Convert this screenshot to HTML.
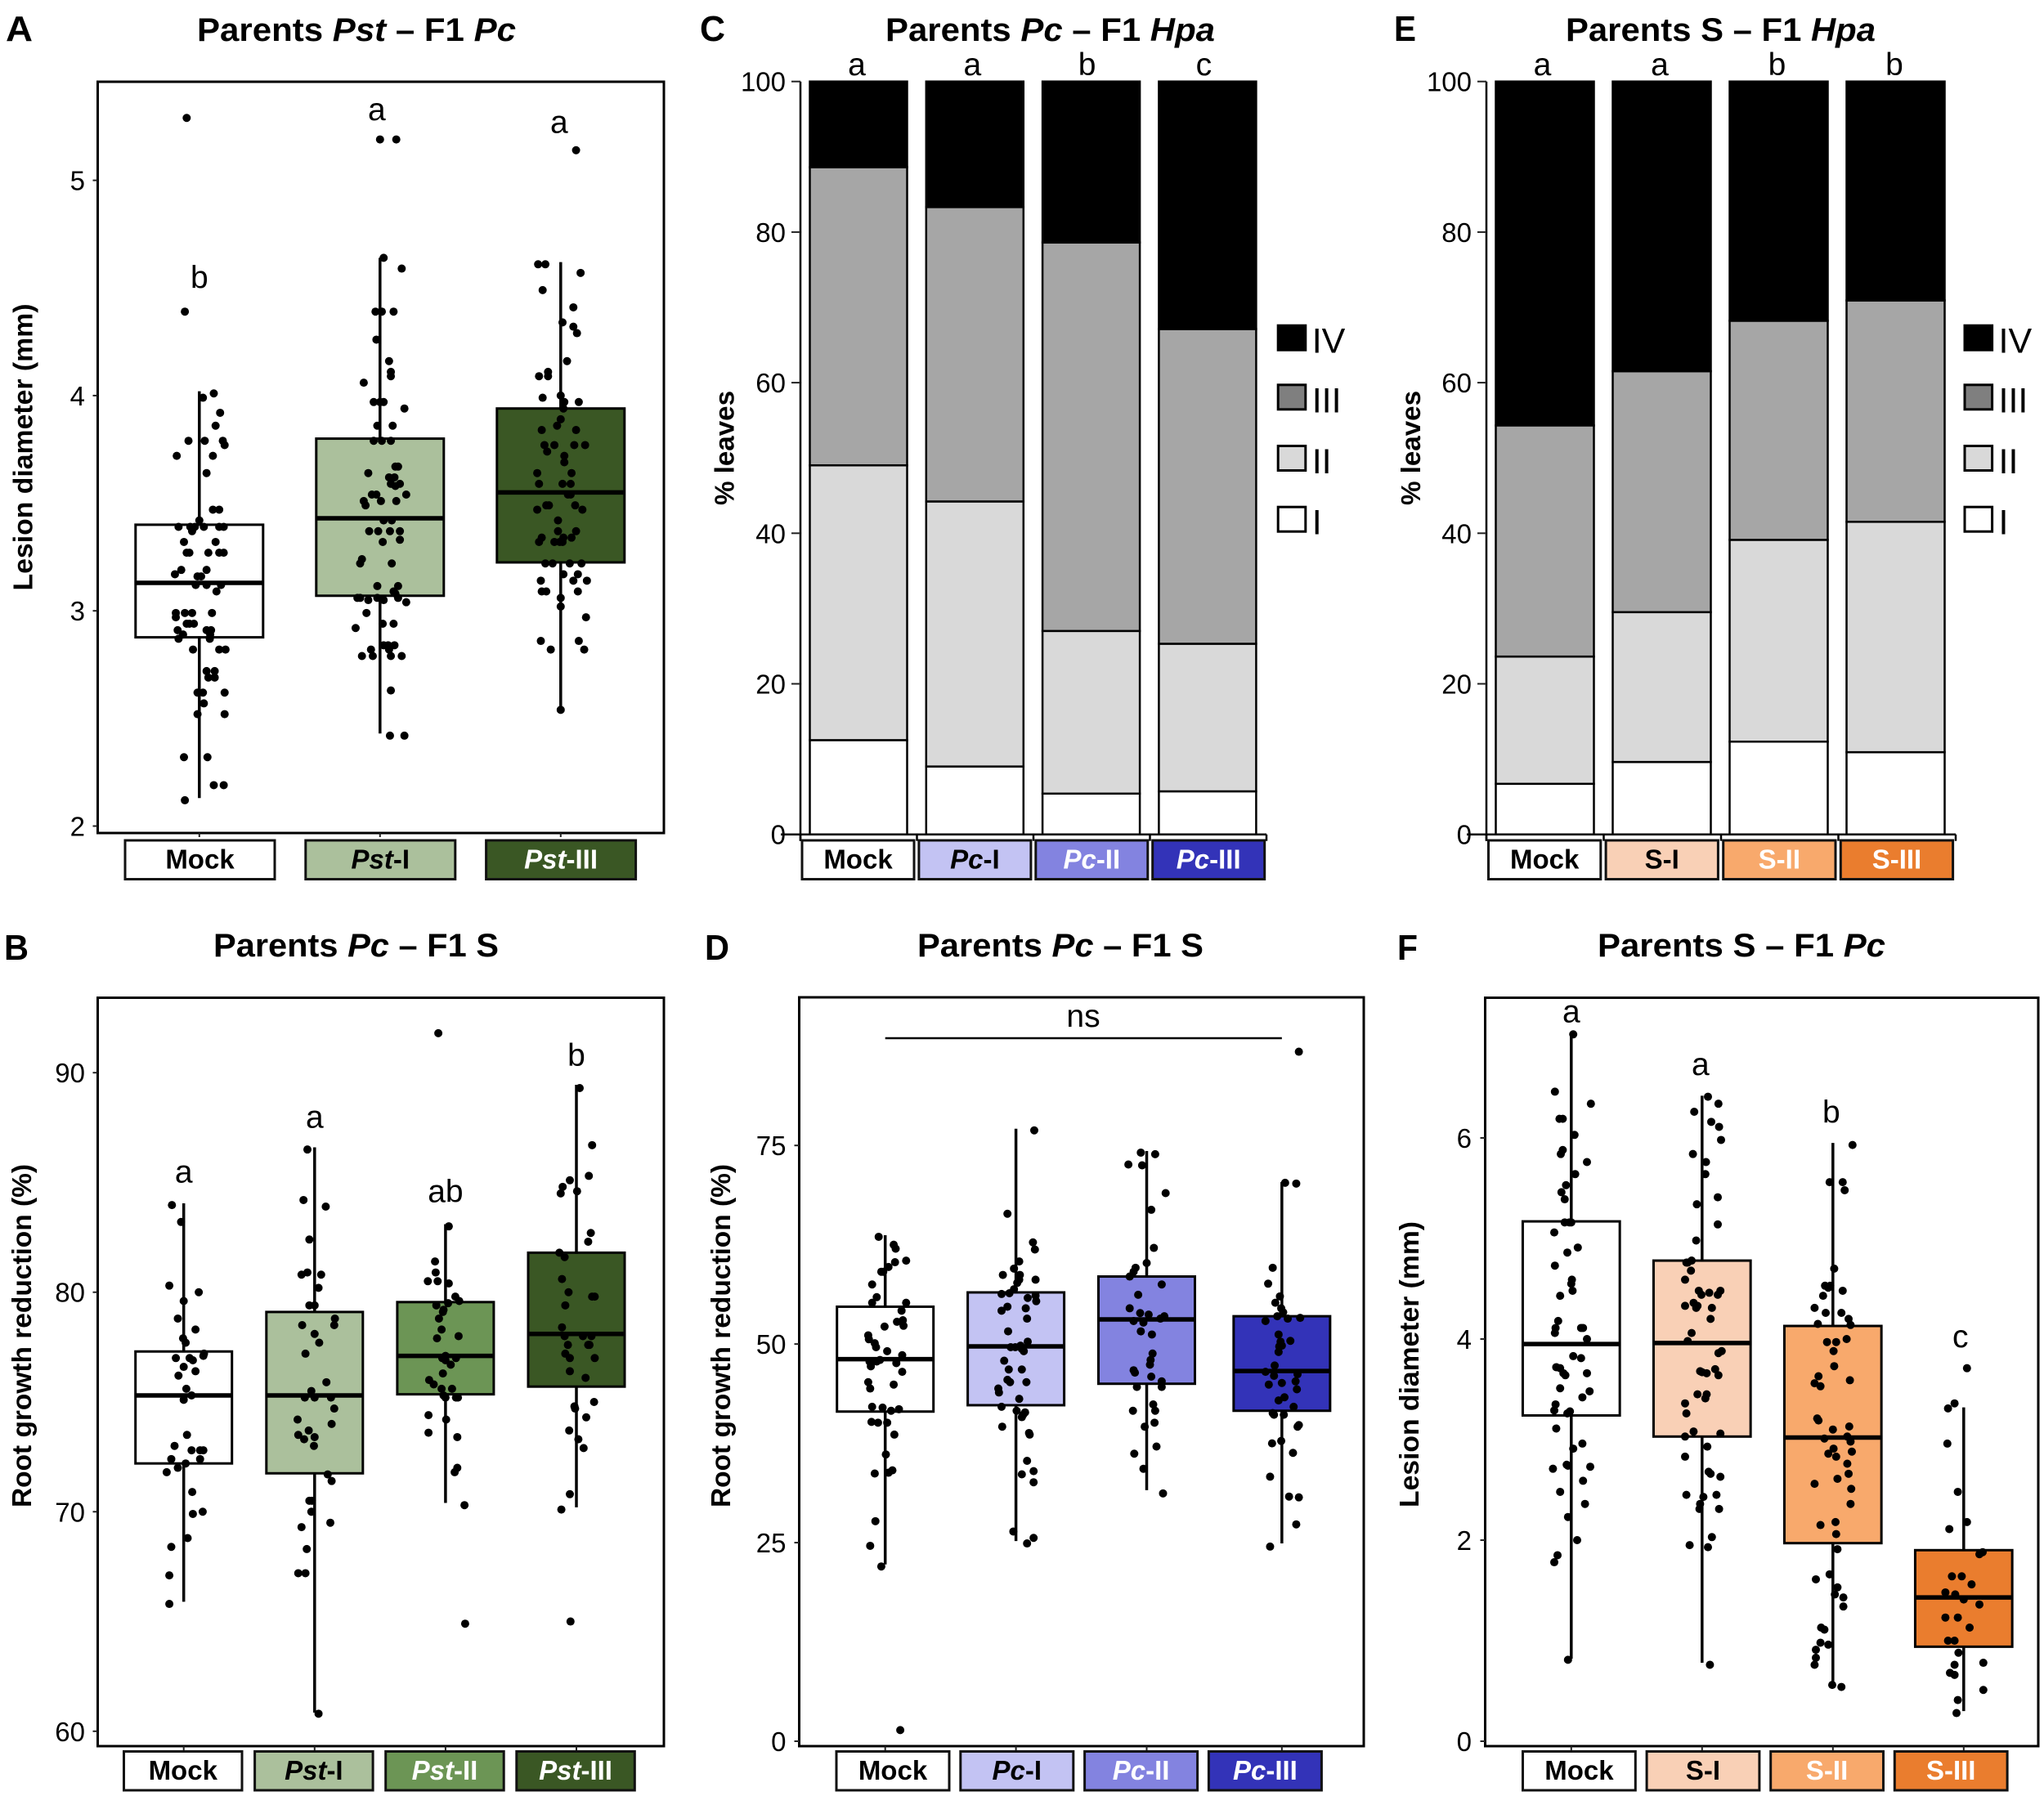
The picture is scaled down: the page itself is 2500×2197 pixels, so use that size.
<!DOCTYPE html>
<html lang="en">
<head>
<meta charset="utf-8">
<title>Parental infection and F1 disease phenotypes</title>
<style>
html,body{margin:0;padding:0;background:#fff}
svg{display:block;font-family:"Liberation Sans",Arial,sans-serif}
.ptitle{font-size:40px;font-weight:700;fill:#000}
.pletter{font-size:44px;font-weight:700;fill:#000}
.ytitle{font-size:33px;font-weight:700;fill:#000}
</style>
</head>
<body>
<svg id="fig" xmlns="http://www.w3.org/2000/svg" width="2500" height="2197" viewBox="0 0 2500 2197">
  <rect x="0" y="0" width="2500" height="2197" fill="#fff"/>

  <text class="pletter" x="7" y="50" textLength="33" lengthAdjust="spacingAndGlyphs">A</text>
  <text class="pletter" x="5" y="1174" textLength="30" lengthAdjust="spacingAndGlyphs">B</text>
  <text class="pletter" x="856" y="50" textLength="31" lengthAdjust="spacingAndGlyphs">C</text>
  <text class="pletter" x="862" y="1174" textLength="30" lengthAdjust="spacingAndGlyphs">D</text>
  <text class="pletter" x="1705" y="50" textLength="27" lengthAdjust="spacingAndGlyphs">E</text>
  <text class="pletter" x="1709" y="1174" textLength="25" lengthAdjust="spacingAndGlyphs">F</text>

  <text class="ptitle" x="241" y="50" textLength="390" lengthAdjust="spacingAndGlyphs">Parents <tspan font-style="italic">Pst</tspan> – F1 <tspan font-style="italic">Pc</tspan></text>
  <text class="ptitle" x="261" y="1170" textLength="349" lengthAdjust="spacingAndGlyphs">Parents <tspan font-style="italic">Pc</tspan> – F1 S</text>
  <text class="ptitle" x="1083" y="50" textLength="403" lengthAdjust="spacingAndGlyphs">Parents <tspan font-style="italic">Pc</tspan> – F1 <tspan font-style="italic">Hpa</tspan></text>
  <text class="ptitle" x="1122" y="1170" textLength="350" lengthAdjust="spacingAndGlyphs">Parents <tspan font-style="italic">Pc</tspan> – F1 S</text>
  <text class="ptitle" x="1915" y="50" textLength="379" lengthAdjust="spacingAndGlyphs">Parents S – F1 <tspan font-style="italic">Hpa</tspan></text>
  <text class="ptitle" x="1954" y="1170" textLength="352" lengthAdjust="spacingAndGlyphs">Parents S – F1 <tspan font-style="italic">Pc</tspan></text>

  <text class="ytitle" text-anchor="middle" transform="translate(39.5,547) rotate(-90)" textLength="351" lengthAdjust="spacingAndGlyphs">Lesion diameter (mm)</text>
  <text class="ytitle" text-anchor="middle" transform="translate(38,1634) rotate(-90)" textLength="420" lengthAdjust="spacingAndGlyphs">Root growth reduction (%)</text>
  <text class="ytitle" text-anchor="middle" transform="translate(897.5,548) rotate(-90)" textLength="140" lengthAdjust="spacingAndGlyphs">% leaves</text>
  <text class="ytitle" text-anchor="middle" transform="translate(893,1634) rotate(-90)" textLength="420" lengthAdjust="spacingAndGlyphs">Root growth reduction (%)</text>
  <text class="ytitle" text-anchor="middle" transform="translate(1737,548) rotate(-90)" textLength="140" lengthAdjust="spacingAndGlyphs">% leaves</text>
  <text class="ytitle" text-anchor="middle" transform="translate(1735,1669) rotate(-90)" textLength="350" lengthAdjust="spacingAndGlyphs">Lesion diameter (mm)</text>

  <g id="marks"></g>
</svg>

<script>
/* ---------- Panel A data ---------- */
const aCategories = ['Mock','Pst-I','Pst-III'];
const aTicks = [2,3,4,5];
const aQ1 = [2.877,3.07,3.225];
const aMedian = [3.13,3.43,3.55];
const aQ3 = [3.40,3.80,3.94];
const aWhiskerLow = [2.13,2.43,2.54];
const aWhiskerHigh = [4.02,4.64,4.62];
const aLetters = ['b','a','a'];
const aLetterValues = [4.50,5.28,5.22];
const aMockPoints = [[-.07,5.29],[-.08,4.39],[.08,4.01],[.02,3.99],[.115,3.92],[.09,3.86],[-.06,3.79],[.03,3.79],[.13,3.79],[.14,3.77],[-.125,3.72],[.075,3.72],[.04,3.64],[.075,3.47],[.11,3.47],[0,3.42],[-.115,3.39],[-.05,3.39],[-.025,3.39],[.025,3.39],[.11,3.39],[.135,3.39],[-.04,3.37],[-.085,3.32],[.09,3.32],[-.07,3.27],[-.055,3.27],[.05,3.27],[.11,3.27],[.135,3.27],[-.1,3.19],[.04,3.19],[-.135,3.17],[-.01,3.16],[.01,3.16],[-.02,3.12],[.04,3.12],[.12,3.12],[.095,3.09],[-.13,2.99],[-.08,2.99],[-.04,2.99],[.07,2.99],[-.13,2.97],[-.07,2.94],[-.055,2.94],[-.03,2.94],[-.12,2.91],[.04,2.91],[.065,2.91],[-.09,2.89],[.06,2.89],[-.115,2.87],[.058,2.87],[-.035,2.82],[.11,2.82],[.145,2.82],[.04,2.72],[.085,2.72],[.05,2.69],[.085,2.69],[-.01,2.62],[.02,2.62],[.14,2.62],[.025,2.57],[-.01,2.52],[.14,2.52],[-.085,2.32],[.045,2.32],[.08,2.19],[.135,2.19],[-.08,2.12]];
const aPst1Points = [[0,5.19],[.09,5.19],[.02,4.64],[.12,4.59],[-.025,4.39],[.01,4.39],[.075,4.39],[-.02,4.26],[.05,4.16],[.06,4.11],[.06,4.09],[-.09,4.06],[-.035,3.97],[0,3.97],[.02,3.97],[.135,3.94],[-.015,3.86],[.07,3.86],[-.035,3.79],[.01,3.79],[.06,3.79],[-.065,3.64],[.085,3.67],[.1,3.67],[.05,3.62],[.08,3.62],[.06,3.59],[.11,3.59],[.085,3.58],[-.045,3.54],[-.02,3.54],[.145,3.54],[-.09,3.51],[.005,3.51],[.09,3.51],[-.08,3.49],[.02,3.42],[.065,3.42],[-.06,3.37],[-.01,3.37],[.055,3.37],[.11,3.37],[.015,3.32],[.11,3.33],[-.1,3.24],[-.11,3.22],[.065,3.22],[-.015,3.115],[.1,3.115],[.075,3.09],[.085,3.08],[-.125,3.06],[-.11,3.06],[-.065,3.05],[-.015,3.06],[.02,3.05],[.1,3.06],[.145,3.04],[-.075,2.99],[.015,2.94],[.075,2.94],[-.135,2.92],[.02,2.84],[.045,2.84],[.08,2.84],[-.05,2.82],[.05,2.82],[-.1,2.79],[-.04,2.79],[.06,2.79],[.12,2.79],[.06,2.63],[.055,2.42],[.135,2.42]];
const aPst3Points = [[.085,5.14],[-.125,4.61],[-.085,4.61],[.11,4.57],[-.1,4.49],[.07,4.41],[.01,4.34],[.07,4.32],[.09,4.29],[.035,4.16],[-.12,4.09],[-.07,4.11],[-.07,4.09],[-.1,3.99],[0,4.0],[.02,3.97],[.1,3.97],[.015,3.94],[0,3.89],[-.02,3.86],[-.105,3.84],[.085,3.84],[-.09,3.77],[-.035,3.77],[.075,3.77],[.135,3.77],[-.075,3.74],[.02,3.72],[.02,3.69],[-.13,3.64],[.06,3.64],[-.12,3.59],[.01,3.59],[.055,3.59],[.04,3.54],[.055,3.54],[-.08,3.49],[-.065,3.49],[.08,3.49],[-.13,3.47],[.12,3.47],[-.015,3.42],[-.015,3.37],[.085,3.37],[-.105,3.34],[.015,3.34],[.06,3.34],[-.12,3.32],[-.035,3.32],[-.005,3.32],[.01,3.32],[-.085,3.22],[-.045,3.22],[.05,3.22],[.115,3.22],[.015,3.17],[.095,3.17],[-.11,3.14],[.07,3.14],[.145,3.14],[-.105,3.09],[-.08,3.09],[.095,3.09],[0,3.06],[0,3.02],[.14,2.97],[-.11,2.86],[.1,2.86],[-.055,2.82],[.13,2.82],[0,2.54]];

/* ---------- Panel B data ---------- */
const bCategories = ['Mock','Pst-I','Pst-II','Pst-III'];
const bTicks = [60,70,80,90];
const bQ1 = [72.2,71.75,75.35,75.7];
const bMedian = [75.3,75.3,77.1,78.1];
const bQ3 = [77.3,79.1,79.55,81.8];
const bWhiskerLow = [65.9,60.85,70.4,70.2];
const bWhiskerHigh = [84.05,86.6,83.1,89.45];
const bLetters = ['a','a','ab','b'];
const bLetterValues = [85,87.5,84.1,90.3];
const bMockPoints = [[-.09,83.97],[-.02,83.2],[-.11,80.3],[.115,80],[0,79.6],[-.045,78.8],[.09,78.3],[-.005,77.9],[.015,77.7],[-.06,77],[.045,77],[.07,76.9],[.155,77.2],[.15,77.1],[0,76.6],[.09,76.4],[-.04,76.2],[.02,75.6],[.06,75.3],[0,75.1],[.025,73.5],[-.07,73],[.06,72.8],[.125,72.8],[.15,72.8],[-.095,72.4],[.125,72.4],[.015,72.2],[-.045,72],[-.13,71.8],[.065,70.9],[.145,70],[.07,69.9],[.03,68.8],[-.095,68.4],[-.11,67.1],[-.11,65.8]];
const bPst1Points = [[-.055,86.5],[-.085,84.2],[.085,83.9],[-.04,82.4],[-.1,80.8],[-.055,80.9],[.05,80.8],[.03,80.2],[-.04,79.4],[0,79.4],[.155,78.8],[-.095,78.5],[.15,78.5],[0,78.1],[.035,77.7],[-.07,77.2],[.09,75.9],[-.025,75.5],[-.075,75.2],[0,75.2],[.125,75.2],[.15,74.7],[-.13,74.2],[.13,74],[-.045,73.7],[-.125,73.5],[-.08,73.3],[0,73.4],[-.005,73],[.1,71.7],[.13,71.4],[-.04,70.5],[-.02,70.5],[-.025,70],[.12,69.5],[-.1,69.3],[-.06,68.3],[-.125,67.2],[-.07,67.2],[.03,60.8]];
const bPst2Points = [[-.055,91.8],[.025,83],[-.08,81.4],[-.075,80.9],[-.135,80.5],[-.06,80.5],[.025,80.4],[.075,79.8],[.105,79.6],[.02,79.5],[-.07,79.4],[-.015,79.2],[-.02,79.1],[-.05,78.8],[-.03,78.3],[-.065,77.9],[.1,78],[0,77.1],[-.025,77],[.08,77],[0,76.9],[.04,76.7],[-.02,76.3],[-.125,76],[-.09,75.8],[-.03,75.6],[.05,75.6],[0,75.2],[.08,75.2],[.095,75.2],[-.015,75.3],[-.13,74.4],[.005,74.2],[-.13,73.6],[.09,73.4],[.09,72],[.07,71.8],[.145,70.3],[.15,64.9]];
const bPst3Points = [[.025,89.3],[.12,86.7],[.095,85.3],[-.05,85.1],[-.105,84.8],[.005,84.6],[-.12,84.5],[.11,82.7],[.09,82.3],[-.13,81.8],[-.09,81.6],[-.11,80.6],[-.06,80],[.12,79.8],[.14,79.8],[-.085,79.4],[-.11,78.4],[-.09,78],[.05,78],[.115,78],[-.065,77.6],[.09,77.6],[.1,77.6],[-.085,77.2],[-.05,77],[.14,77],[-.05,76.4],[.07,76.1],[.135,75],[-.015,74.8],[-.01,74.7],[.075,74.3],[-.055,73.7],[.015,73.3],[.055,72.9],[-.05,70.8],[-.115,70.1],[-.045,65]];

/* ---------- Panel C data (segment heights, % leaves) ---------- */
const cCategories = ['Mock','Pc-I','Pc-II','Pc-III'];
const stackTicks = [0,20,40,60,80,100];
const cClassI = [12.52,9.02,5.42,5.72];
const cClassII = [36.5,35.2,21.6,19.6];
const cClassIII = [39.6,39.1,51.6,41.8];
const cClassIV = [11.38,16.68,21.38,32.88];
const cLetters = ['a','a','b','c'];

/* ---------- Panel D data ---------- */
const dCategories = ['Mock','Pc-I','Pc-II','Pc-III'];
const dTicks = [0,25,50,75];
const dQ1 = [41.5,42.3,45,41.6];
const dMedian = [48.1,49.7,53.1,46.6];
const dQ3 = [54.7,56.5,58.5,53.5];
const dWhiskerLow = [22.25,25.2,31.6,24.9];
const dWhiskerHigh = [63.7,77.1,74.3,70.4];
const dMockPoints = [[-.05,63.5],[.065,62.5],[.08,62],[.16,60.5],[.075,60.3],[.025,59.7],[-.03,59.1],[-.015,59.1],[-.1,57.5],[-.065,55.9],[-.1,55.2],[.16,55.2],[.125,54.2],[.135,53],[.09,52.8],[.14,52.3],[-.005,52.2],[-.13,51.1],[-.125,50.6],[-.08,50.1],[-.07,49.6],[.015,49.1],[.13,48.6],[-.065,47.8],[-.04,48],[-.12,47.8],[.085,47.6],[-.11,47.2],[.13,46.5],[-.13,45.2],[.065,44.9],[-.115,44.4],[-.1,42.1],[-.02,42],[.045,41.6],[.105,41.8],[-.105,40.2],[-.055,40.1],[.015,40.1],[.07,38.6],[.005,36.1],[.055,34.1],[.025,33.8],[-.08,33.7],[-.075,27.7],[-.115,24.6],[-.03,22],[.115,1.4]];
const dPc1Points = [[.14,76.9],[-.065,66.4],[.13,62.8],[.145,61.9],[.025,60.4],[-.015,59.5],[-.1,58.7],[.03,58.7],[.15,58.1],[.025,58.1],[.01,57.7],[-.015,56.9],[-.05,56.4],[-.11,56.3],[.09,55.8],[.15,56.1],[.155,55.4],[-.065,54.7],[-.11,54.2],[.075,54.5],[.085,53.2],[-.06,51.6],[.09,50.3],[-.04,49.6],[-.005,49.6],[.035,49.8],[.045,49.4],[.06,49.1],[-.09,47.9],[-.055,46.8],[.045,46.8],[-.065,45.5],[-.045,45.2],[.08,45.2],[-.135,44.4],[-.13,43.9],[.025,43.1],[-.11,42.1],[.005,41.6],[.055,41.1],[.07,41.4],[.045,40.8],[-.105,39.6],[.1,38.8],[.105,38.6],[.085,35.3],[.045,33.6],[.135,34],[.135,32.6],[-.02,26.4],[.135,25.6],[.085,24.9]];
const dPc2Points = [[-.045,74.1],[.065,73.9],[-.14,72.6],[-.035,72.5],[.145,69],[.035,66.9],[.055,62.1],[0,60.2],[-.085,59.6],[-.1,59.1],[-.13,58.5],[.115,57.5],[-.065,56.2],[-.13,54.5],[-.05,53.9],[.015,53.7],[.135,53.5],[.105,53.2],[-.1,52.9],[-.025,52.7],[-.045,51.6],[.04,51.2],[.045,48.8],[.03,48],[.025,47.4],[-.1,46.7],[-.09,46.4],[.035,45.9],[.115,45.3],[.115,44.6],[-.075,44.6],[.05,42.4],[-.105,41.6],[.065,41.6],[.06,40.1],[-.015,39.6],[.075,37.1],[-.095,36.2],[-.025,34.3],[.125,31.2]];
const dPc3Points = [[.13,86.8],[.025,70.3],[.11,70.2],[-.07,59.6],[-.105,57.6],[-.015,56],[-.05,55.2],[-.005,54.5],[-.125,52.9],[-.035,53.5],[.045,53.2],[.14,53.3],[.01,54],[-.025,51.2],[.065,50.4],[-.01,50.3],[-.02,49.7],[0,49.8],[-.025,49],[-.055,47.3],[-.125,46.5],[-.06,46],[.12,46.2],[.105,45.3],[-.1,44.9],[0,45.1],[.115,44.3],[.02,43.3],[-.025,42.9],[.09,42.1],[-.06,41.1],[.015,41.1],[-.07,41.3],[.13,39.8],[.12,39.6],[-.005,37.8],[-.075,37.5],[.085,36.3],[-.09,33.3],[.055,30.8],[.13,30.7],[.11,27.3],[-.09,24.5]];

/* ---------- Panel E data (segment heights, % leaves) ---------- */
const eCategories = ['Mock','S-I','S-II','S-III'];
const eClassI = [6.72,9.62,12.32,10.92];
const eClassII = [16.9,19.9,26.8,30.6];
const eClassIII = [30.7,32,29.1,29.4];
const eClassIV = [45.68,38.48,31.78,29.08];
const eLetters = ['a','a','b','b'];

/* ---------- Panel F data ---------- */
const fCategories = ['Mock','S-I','S-II','S-III'];
const fTicks = [0,2,4,6];
const fQ1 = [3.24,3.03,1.97,.94];
const fMedian = [3.95,3.96,3.02,1.43];
const fQ3 = [5.17,4.78,4.13,1.9];
const fWhiskerLow = [.82,.78,.56,.3];
const fWhiskerHigh = [7.03,6.42,5.95,3.32];
const fLetters = ['a','a','b','c'];
const fLetterValues = [7.15,6.625,6.15,3.92];
const fMockPoints = [[.015,7.03],[-.125,6.46],[.15,6.34],[-.09,6.19],[-.065,6.19],[.025,6.03],[-.065,5.88],[-.08,5.84],[.12,5.76],[.03,5.64],[-.04,5.53],[-.075,5.46],[-.05,5.39],[-.05,5.16],[-.015,5.16],[0,5.16],[-.13,5.06],[.05,4.91],[-.03,4.86],[-.125,4.73],[.005,4.59],[0,4.55],[.01,4.48],[-.085,4.43],[-.1,4.18],[-.12,4.11],[-.125,4.06],[.075,4.11],[.09,4.11],[.12,4],[.015,3.83],[.075,3.81],[-.115,3.72],[-.085,3.71],[.12,3.66],[-.06,3.66],[-.045,3.64],[-.085,3.51],[.14,3.48],[.085,3.42],[-.12,3.35],[-.13,3.29],[-.03,3.26],[-.01,3.28],[-.115,3.11],[.085,2.96],[.015,2.91],[-.025,2.74],[-.035,2.75],[.145,2.73],[-.14,2.71],[.09,2.59],[-.085,2.48],[.105,2.36],[-.025,2.23],[.045,2],[-.105,1.85],[-.13,1.78],[-.025,.81]];
const fS1Points = [[.045,6.41],[.125,6.34],[-.06,6.26],[.07,6.16],[.13,6.11],[.145,5.98],[-.07,5.84],[.03,5.76],[.025,5.64],[.12,5.41],[-.04,5.34],[.12,5.14],[-.045,4.98],[-.08,4.78],[-.12,4.76],[-.11,4.76],[-.085,4.68],[-.13,4.59],[-.025,4.48],[.14,4.48],[-.005,4.44],[.055,4.46],[.12,4.44],[-.065,4.36],[-.13,4.33],[-.035,4.33],[-.045,4.31],[.075,4.31],[.065,4.2],[-.08,4.06],[-.11,3.98],[.15,3.88],[.125,3.86],[.1,3.7],[-.015,3.68],[0,3.67],[.035,3.66],[.125,3.64],[-.035,3.45],[.035,3.45],[.025,3.41],[-.13,3.36],[-.12,3.26],[-.065,3.08],[-.13,3.03],[.14,3.06],[.04,2.93],[-.13,2.83],[.05,2.68],[.065,2.66],[.14,2.63],[-.12,2.45],[.01,2.43],[.11,2.45],[-.015,2.36],[-.02,2.31],[.13,2.31],[.075,2.03],[-.095,1.95],[.045,1.93],[.06,.76]];
const fS2Points = [[.15,5.93],[-.025,5.56],[.075,5.56],[.09,5.48],[.01,4.7],[-.06,4.53],[-.02,4.53],[-.035,4.51],[.075,4.48],[-.075,4.43],[-.14,4.31],[-.055,4.26],[.065,4.26],[.12,4.2],[-.115,4.15],[.135,4.14],[.105,4],[-.045,3.97],[.025,3.97],[.005,3.88],[.01,3.73],[-.11,3.63],[-.14,3.56],[-.095,3.53],[.13,3.59],[-.12,3.21],[-.11,3.19],[.125,3.13],[0,3.1],[-.065,3.01],[.11,3.03],[.135,2.98],[.005,2.91],[.145,2.88],[-.035,2.86],[.025,2.83],[.11,2.76],[.12,2.66],[.035,2.61],[-.14,2.56],[.14,2.51],[.135,2.36],[.02,2.18],[-.095,2.15],[.025,2.06],[.035,1.91],[-.025,1.66],[-.13,1.61],[.035,1.53],[.015,1.46],[.08,1.43],[.08,1.34],[-.09,1.13],[-.065,1.11],[-.095,.98],[-.035,.96],[-.13,.91],[-.13,.83],[-.14,.76],[-.005,.56],[.065,.54]];
const fS3Points = [[.025,3.71],[-.07,3.36],[-.12,3.31],[-.125,2.96],[-.045,2.48],[.025,2.18],[-.11,2.11],[.145,1.88],[.12,1.86],[-.09,1.64],[-.015,1.64],[.06,1.56],[-.14,1.48],[-.065,1.46],[0,1.41],[.12,1.36],[-.14,1.23],[-.045,1.23],[.045,1.13],[-.12,1],[-.07,1],[-.04,.88],[.15,.78],[-.07,.76],[-.105,.68],[-.07,.66],[.15,.51],[-.045,.41],[-.055,.28]];

/* ---------- Shared style lookups ---------- */
const fillByCategory = {'Mock':'#ffffff','Pst-I':'#abc09c','Pst-II':'#6c9555','Pst-III':'#3a5724','Pc-I':'#c3c3f3','Pc-II':'#8383e0','Pc-III':'#3333b8','S-I':'#f9d0b6','S-II':'#f8a96c','S-III':'#ea7d2e'};
const whiteLabels = ['Pst-II','Pst-III','Pc-II','Pc-III','S-II','S-III'];
const classFills = ['#ffffff','#d9d9d9','#a6a6a6','#000000'];
const legendLabels = ['IV','III','II','I'];
const legendFills = ['#000000','#7f7f7f','#d9d9d9','#ffffff'];

/* ---------- Helpers ---------- */
const NS = 'http://www.w3.org/2000/svg';
const root = document.getElementById('marks');
function el(tag, parent, attrs){
  const e = document.createElementNS(NS, tag);
  for (const k in attrs) e.setAttribute(k, attrs[k]);
  parent.appendChild(e);
  return e;
}
function linearScale(v0, p0, v1, p1){
  return function(v){ return p0 + (v - v0) * (p1 - p0) / (v1 - v0); };
}
function slug(s){ return s.toLowerCase().replace(/[^a-z0-9]+/g,'-'); }

function drawChip(parent, panel, name, x, y, w, h){
  const g = el('g', parent, {});
  
  
  el('rect', g, {x:x, y:y, width:w, height:h, fill:fillByCategory[name], stroke:'#111', 'stroke-width':3});
  const t = el('text', g, {x:x + w/2, y:y + h/2 + 10.5, 'text-anchor':'middle', 'font-size':33, 'font-weight':700, fill: whiteLabels.includes(name) ? '#fff' : '#000'});
  const parts = name.split('-');
  if (parts.length === 2 && parts[0] !== 'S'){
    const i = el('tspan', t, {'font-style':'italic'});
    i.textContent = parts[0];
    const r = el('tspan', t, {});
    r.textContent = '-' + parts[1];
  } else {
    t.textContent = name;
  }
}

function drawYTicks(parent, panel, ticks, y, axisX){
  ticks.forEach(function(v){
    const g = el('g', parent, {});
    
    
    el('line', g, {x1:axisX.tickStart, x2:axisX.tickEnd, y1:y(v), y2:y(v), stroke:'#222', 'stroke-width':2});
    const t = el('text', g, {x:axisX.labelRight, y:y(v) + 12, 'text-anchor':'end', 'font-size':33, fill:'#000'});
    t.textContent = String(v);
  });
}

function drawBoxPanel(cfg){
  const g = el('g', root, {});
  
  
  const y = linearScale(cfg.yRef[0], cfg.yRef[1], cfg.yRef[2], cfg.yRef[3]);
  const x = function(i){ return cfg.firstCenter + cfg.slots[i] * cfg.spacing; };
  const f = cfg.frame;
  const frame = el('rect', g, {x:f[0], y:f[1], width:f[2]-f[0], height:f[3]-f[1], fill:'#fff', stroke:'#000', 'stroke-width':3});
  
  
  drawYTicks(g, cfg.id, cfg.ticks, y, {tickStart:f[0]-6, tickEnd:f[0], labelRight:cfg.labelRight});
  cfg.categories.forEach(function(name, i){
    const cx = x(i), hw = cfg.boxWidth/2;
    const tick = el('line', g, {x1:cx, x2:cx, y1:f[3], y2:f[3]+5, stroke:'#222', 'stroke-width':2});
    
    
    const whisker = el('line', g, {x1:cx, x2:cx, y1:y(cfg.high[i]), y2:y(cfg.low[i]), stroke:'#000', 'stroke-width':3.5});
    
    
    const box = el('rect', g, {x:cx-hw, y:y(cfg.q3[i]), width:cfg.boxWidth, height:y(cfg.q1[i])-y(cfg.q3[i]), fill:fillByCategory[name], stroke:'#000', 'stroke-width':3});
    
    
    const med = el('line', g, {x1:cx-hw, x2:cx+hw, y1:y(cfg.median[i]), y2:y(cfg.median[i]), stroke:'#000', 'stroke-width':5.5});
    
    
    cfg.points[i].forEach(function(p){
      const c = el('circle', g, {cx:cx + p[0]*cfg.spacing, cy:y(p[1]), r:5, fill:'#000'});
      
      
    });
    if (cfg.letters){
      const t = el('text', g, {x:cx + cfg.letterNudge[i], y:y(cfg.letterValues[i]), 'text-anchor':'middle', 'font-size':39, fill:'#000'});
      
      
      t.textContent = cfg.letters[i];
    }
    drawChip(g, cfg.id, name, cfg.chip[0] + i*cfg.chip[2], cfg.chip[1], cfg.chip[3], cfg.chip[4]);
  });
  return {g:g, y:y, x:x};
}

function drawStackPanel(cfg){
  const g = el('g', root, {});
  
  
  const y = linearScale(0, cfg.yBase, 100, cfg.yTop);
  const yAxis = el('line', g, {x1:cfg.axisX, x2:cfg.axisX, y1:cfg.yTop, y2:cfg.yBase+8, stroke:'#000', 'stroke-width':2.5});
  
  
  drawYTicks(g, cfg.id, stackTicks, y, {tickStart:cfg.axisX-11, tickEnd:cfg.axisX, labelRight:cfg.labelRight});
  const xAxis = el('line', g, {x1:cfg.axisX-24, x2:cfg.axisEnd, y1:cfg.yBase, y2:cfg.yBase, stroke:'#000', 'stroke-width':2.5});
  
  
  cfg.categories.forEach(function(name, i){
    const bx = cfg.barStart + i*cfg.barStep;
    let cum = 0;
    cfg.segments.forEach(function(seg, s){
      const top = cum + seg[i];
      const r = el('rect', g, {x:bx, y:y(top), width:cfg.barWidth, height:y(cum)-y(top), fill:classFills[s], stroke:'#000', 'stroke-width':2.5});
      
      
      cum = top;
    });
    const t = el('text', g, {x:bx + cfg.barWidth/2 + cfg.letterNudge[i], y:cfg.letterY, 'text-anchor':'middle', 'font-size':39, fill:'#000'});
    
    
    t.textContent = cfg.letters[i];
  });
  const divider = cfg.categories.length + 1;
  for (let k = 0; k < divider; k++){
    const dx = cfg.axisX + k*(cfg.axisEnd - cfg.axisX)/(divider - 1);
    const d = el('line', g, {x1:dx, x2:dx, y1:cfg.yBase, y2:cfg.yBase+8, stroke:'#000', 'stroke-width':2.5});
    
    
  }
  cfg.categories.forEach(function(name, i){
    drawChip(g, cfg.id, name, cfg.chip[0] + i*cfg.chip[2], cfg.chip[1], cfg.chip[3], cfg.chip[4]);
  });
  legendLabels.forEach(function(lab, i){
    const lg = el('g', g, {});
    
    
    const sy = [396.7,469.3,544,618.7][i];
    el('rect', lg, {x:cfg.legendX + 1.5, y:sy + 1.5, width:33.6, height:30, fill:legendFills[i], stroke:'#000', 'stroke-width':3});
    const t = el('text', lg, {x:cfg.legendX + 43, y:sy + 35, 'font-size':43, fill:'#000'});
    t.textContent = lab;
  });
}

/* ---------- Panels ---------- */
drawBoxPanel({id:'a', categories:aCategories, ticks:aTicks, q1:aQ1, median:aMedian, q3:aQ3, low:aWhiskerLow, high:aWhiskerHigh,
  points:[aMockPoints,aPst1Points,aPst3Points], letters:aLetters, letterValues:aLetterValues, letterNudge:[0,-4,-2],
  frame:[119.5,100,812,1019], yRef:[5,220.6,2,1010.5], firstCenter:243.8, slots:[0,1,2], spacing:221, boxWidth:156,
  labelRight:104, chip:[153,1028,220.8,183,47.5]});

drawBoxPanel({id:'b', categories:bCategories, ticks:bTicks, q1:bQ1, median:bMedian, q3:bQ3, low:bWhiskerLow, high:bWhiskerHigh,
  points:[bMockPoints,bPst1Points,bPst2Points,bPst3Points], letters:bLetters, letterValues:bLetterValues, letterNudge:[0,0,0,0],
  frame:[119.5,1220.5,812,2136], yRef:[90,1312.2,60,2117.8], firstCenter:224.7, slots:[0,1,2,3], spacing:160.1, boxWidth:118,
  labelRight:104, chip:[151.5,2142.5,160.1,144.5,47.5]});

const dPanel = drawBoxPanel({id:'d', categories:dCategories, ticks:dTicks, q1:dQ1, median:dMedian, q3:dQ3, low:dWhiskerLow, high:dWhiskerHigh,
  points:[dMockPoints,dPc1Points,dPc2Points,dPc3Points],
  frame:[977.5,1220,1668,2136], yRef:[75,1401.2,0,2130], firstCenter:1082.7, slots:[0,1,2,3.034], spacing:159.9, boxWidth:118,
  labelRight:961.5, chip:[1023,2142.5,151.8,138,47.5]});
const nsLine = el('line', dPanel.g, {x1:dPanel.x(0), x2:dPanel.x(3), y1:dPanel.y(88.5), y2:dPanel.y(88.5), stroke:'#000', 'stroke-width':2.5});


const nsText = el('text', dPanel.g, {x:1325, y:1256, 'text-anchor':'middle', 'font-size':39, fill:'#000'});


nsText.textContent = 'ns';

drawBoxPanel({id:'f', categories:fCategories, ticks:fTicks, q1:fQ1, median:fMedian, q3:fQ3, low:fWhiskerLow, high:fWhiskerHigh,
  points:[fMockPoints,fS1Points,fS2Points,fS3Points], letters:fLetters, letterValues:fLetterValues, letterNudge:[0,-2,-2,-4],
  frame:[1816.5,1220.5,2493,2136], yRef:[6,1392,0,2130], firstCenter:1921.8, slots:[0,1,2,3], spacing:160, boxWidth:118.7,
  labelRight:1800, chip:[1862.5,2142.5,151.6,137.8,47.5]});

drawStackPanel({id:'c', categories:cCategories, segments:[cClassI,cClassII,cClassIII,cClassIV], letters:cLetters,
  yBase:1020.7, yTop:99.7, axisX:979, axisEnd:1549, labelRight:961, barStart:990.5, barStep:142.3, barWidth:119,
  letterY:92, letterNudge:[-2,-3,-5,-4.5], legendX:1561.7, chip:[981,1028,142.9,137,47.5]});

drawStackPanel({id:'e', categories:eCategories, segments:[eClassI,eClassII,eClassIII,eClassIV], letters:eLetters,
  yBase:1020.7, yTop:99.7, axisX:1818, axisEnd:2392, labelRight:1800, barStart:1829.5, barStep:143, barWidth:120,
  letterY:92, letterNudge:[-3,-2.5,-2,-1.5], legendX:2401.5, chip:[1820.5,1028,143.6,137.3,47.5]});
</script>
</body>
</html>
